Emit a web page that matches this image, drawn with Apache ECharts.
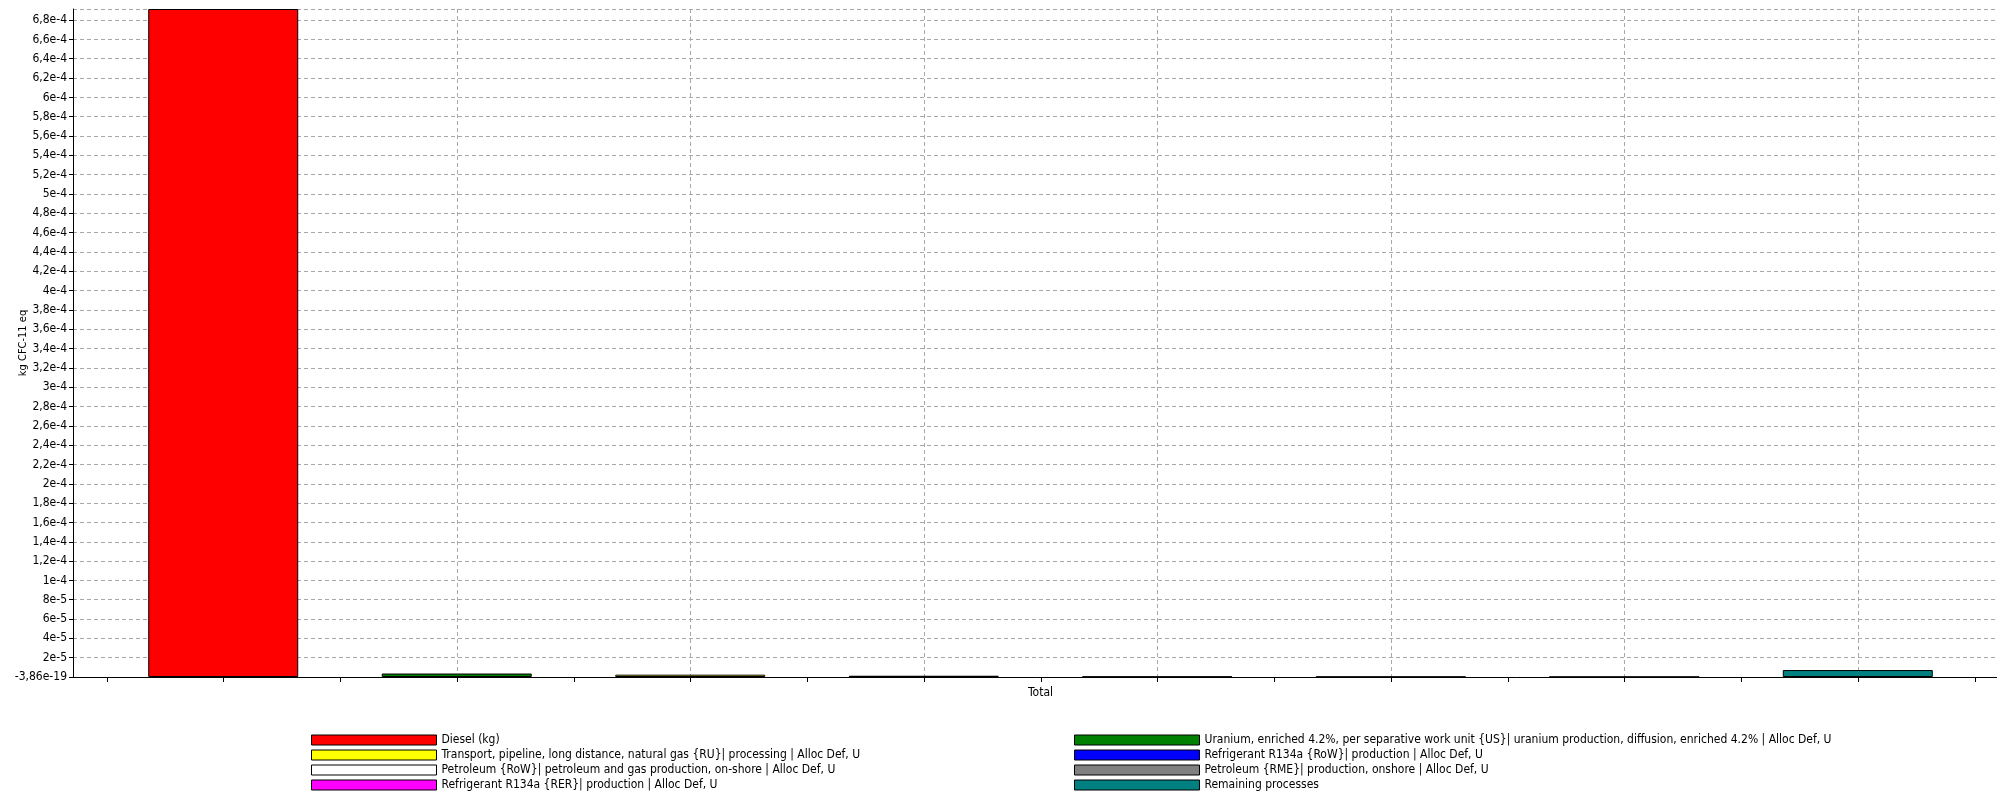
<!DOCTYPE html>
<html>
<head>
<meta charset="utf-8">
<script src="https://cdn.jsdelivr.net/npm/echarts@6/dist/echarts.min.js"></script>
<style>
html,body{margin:0;padding:0;background:#fff;}
#chart{width:1997px;height:792px;}
</style>
</head>
<body>
<div id="chart"></div>
<script>
// ---- data ----
var categories = ['Total'];
var seriesNames = [
  'Diesel (kg)',
  'Uranium, enriched 4.2%, per separative work unit {US}| uranium production, diffusion, enriched 4.2% | Alloc Def, U',
  'Transport, pipeline, long distance, natural gas {RU}| processing | Alloc Def, U',
  'Refrigerant R134a {RoW}| production | Alloc Def, U',
  'Petroleum {RoW}| petroleum and gas production, on-shore | Alloc Def, U',
  'Petroleum {RME}| production, onshore | Alloc Def, U',
  'Refrigerant R134a {RER}| production | Alloc Def, U',
  'Remaining processes'
];
var seriesValues = [6.915e-4, 3.6e-6, 2.4e-6, 1.3e-6, 4e-7, 3e-7, 2e-7, 7.2e-6];
var seriesColors = ['#ff0000', '#008000', '#ffff00', '#0000ff', '#ffffff', '#808080', '#ff00ff', '#008080'];
var legendLeft = [seriesNames[0], seriesNames[2], seriesNames[4], seriesNames[6]];
var legendRight = [seriesNames[1], seriesNames[3], seriesNames[5], seriesNames[7]];
var yMinLabel = '-3,86e-19';
var yAxisName = 'kg CFC-11 eq';

var FONT = "'DejaVu Sans Condensed', 'Liberation Sans', sans-serif";

function fmt(v) {
  if (v === 0) return yMinLabel;
  var s = Number(v.toExponential(4)).toExponential();
  return s.replace('.', ',').replace('e+', 'e');
}

var series = seriesNames.map(function (n, i) {
  return {
    name: n,
    type: 'bar',
    xAxisIndex: 0,
    yAxisIndex: 0,
    data: [seriesValues[i]],
    barWidth: 150,
    barGap: '55.67%',
    itemStyle: { color: seriesColors[i], borderColor: '#000', borderWidth: 1 },
    z: 3
  };
});

var chart = echarts.init(document.getElementById('chart'), null, { renderer: 'canvas' });
var gridTop = 9, gridBottom = 115;
function legendCfg(data, left) {
  return {
    data: data, orient: 'vertical', left: left, top: 734, padding: 0,
    height: 58,
    itemWidth: 125, itemHeight: 10, itemGap: 3, icon: 'rect',
    itemStyle: { borderColor: '#000', borderWidth: 1 },
    textStyle: { fontFamily: FONT, fontSize: 12, color: '#000', lineHeight: 12 },
    selectedMode: false
  };
}
var option = {
  animation: false,
  backgroundColor: '#fff',
  textStyle: { fontFamily: FONT },
  grid: [
    { left: 73, right: -11, top: gridTop, bottom: gridBottom, containLabel: false, outerBoundsMode: 'none' },
    { left: 106.75, width: 1868, top: gridTop, bottom: gridBottom, outerBoundsMode: 'none' },
    { left: 223.5, width: 1634.5, top: gridTop, bottom: gridBottom, outerBoundsMode: 'none' }
  ],
  legend: [legendCfg(legendLeft, 311), legendCfg(legendRight, 1074)],
  xAxis: [
    {
      type: 'category', gridIndex: 0, data: categories,
      axisLine: { lineStyle: { color: '#000', width: 1 } },
      axisTick: { show: false },
      axisLabel: { color: '#000', fontSize: 12, fontFamily: FONT, margin: 10 },
      splitLine: { show: false }
    },
    {
      type: 'value', gridIndex: 1, min: 0, max: 16, interval: 1,
      axisLine: { show: false },
      axisTick: { show: true, length: 5, lineStyle: { color: '#000' } },
      axisLabel: { show: false },
      splitLine: { show: false }
    },
    {
      type: 'value', gridIndex: 2, min: 0, max: 7, interval: 1,
      axisLine: { show: false },
      axisTick: { show: false },
      axisLabel: { show: false },
      splitLine: { show: true, lineStyle: { color: '#a8a8a8', type: [4, 3], width: 1 } }
    }
  ],
  yAxis: [
    {
      type: 'value', gridIndex: 0, min: 0, max: 'dataMax', interval: 2e-5,
      name: yAxisName, nameLocation: 'middle', nameRotate: 90, nameGap: 44,
      nameMoveOverlap: false,
      nameTextStyle: { color: '#000', fontSize: 11, fontFamily: FONT },
      axisLine: { show: true, lineStyle: { color: '#000', width: 1 } },
      axisTick: { show: true, length: 4, lineStyle: { color: '#000' } },
      axisLabel: { color: '#000', fontSize: 12, fontFamily: FONT, margin: 6, formatter: fmt, showMaxLabel: false },
      splitLine: { show: true, lineStyle: { color: '#a8a8a8', type: [4, 3], width: 1 } }
    },
    { type: 'value', gridIndex: 1, min: 0, max: 1, show: false },
    { type: 'value', gridIndex: 2, min: 0, max: 1, show: false }
  ],
  series: series
};
chart.setOption(option);
</script>
</body>
</html>
